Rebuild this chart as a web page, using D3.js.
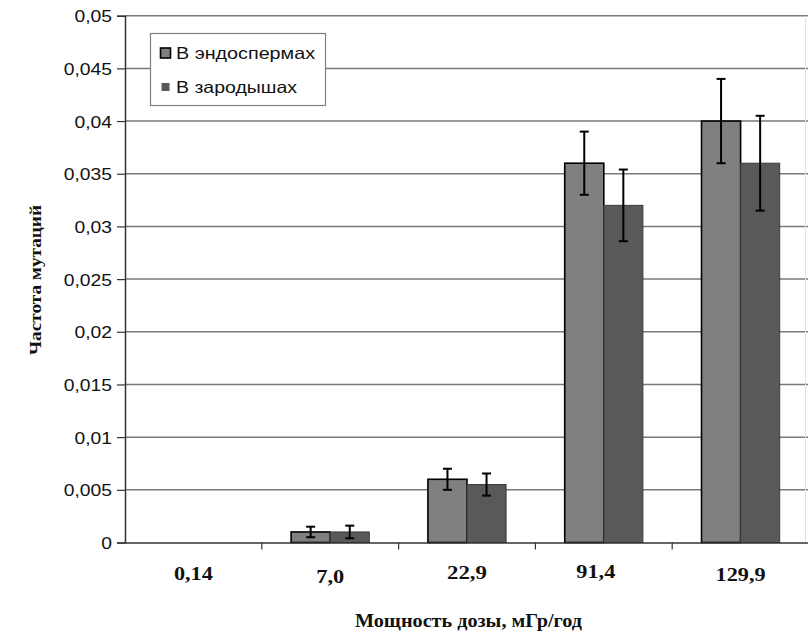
<!DOCTYPE html>
<html>
<head>
<meta charset="utf-8">
<script src="https://cdn.jsdelivr.net/npm/d3@7"></script>
<style>
  html, body { margin: 0; padding: 0; background: #fff; }
  svg { display: block; }
</style>
</head>
<body>
<svg id="chart" width="808" height="633"></svg>
<script>
// Dose-rate categories (mGy/year) and mutation frequencies
const categories = ["0,14", "7,0", "22,9", "91,4", "129,9"];
const seriesNames = ["В эндоспермах", "В зародышах"];
const endosperm    = [0, 0.001, 0.006, 0.036, 0.040];
const endospermErr = [0, 0.0005, 0.001, 0.003, 0.004];
const embryo       = [0, 0.001, 0.0055, 0.032, 0.036];
const embryoErr    = [0, 0.0006, 0.00105, 0.0034, 0.0045];
const yTicks       = [0, 0.005, 0.01, 0.015, 0.02, 0.025, 0.03, 0.035, 0.04, 0.045, 0.05];
const yTickLabels  = ["0", "0,005", "0,01", "0,015", "0,02", "0,025", "0,03", "0,035", "0,04", "0,045", "0,05"];
const xTitle = "Мощность дозы, мГр/год";
const yTitle = "Частота мутаций";

const svg = d3.select("#chart");
const plot = { left: 125, right: 809, top: 15.7, bottom: 542.5 };
const serif = "'Liberation Serif', 'Times New Roman', serif";
const sans = "'Liberation Sans', Arial, sans-serif";

const x = d3.scaleBand().domain(categories).range([plot.left, plot.right]).paddingInner(0).paddingOuter(0);
const xs = d3.scaleBand().domain(seriesNames).range([0, x.bandwidth()]).paddingInner(0).paddingOuter(0.75);
const y = d3.scaleLinear().domain([0, 0.05]).range([plot.bottom, plot.top]);

const series = [
  { name: seriesNames[0], values: endosperm, errors: endospermErr, fill: "#808080", stroke: "#000", sw: 1.6 },
  { name: seriesNames[1], values: embryo,    errors: embryoErr,    fill: "#595959", stroke: "#3a3a3a", sw: 1 }
];

// horizontal gridlines
svg.append("g").selectAll("line").data(yTicks.filter(v => v > 0)).join("line")
  .attr("x1", plot.left).attr("x2", 808)
  .attr("y1", d => y(d)).attr("y2", d => y(d))
  .attr("stroke", "#7a7a7a").attr("stroke-width", 1.5);

// faint right border of the plot area
svg.append("line").attr("x1", 805.5).attr("x2", 805.5).attr("y1", plot.top).attr("y2", plot.bottom)
  .attr("stroke", "#e2e2e2").attr("stroke-width", 1);

// bars
const groups = svg.append("g").selectAll("g").data(series).join("g");
groups.each(function(s) {
  const g = d3.select(this);
  const rows = categories.map((c, i) => ({ c, v: s.values[i], e: s.errors[i] })).filter(d => d.v > 0);
  g.selectAll("rect").data(rows).join("rect")
    .attr("x", d => x(d.c) + xs(s.name))
    .attr("y", d => y(d.v))
    .attr("width", xs.bandwidth())
    .attr("height", d => y(0) - y(d.v))
    .attr("fill", s.fill).attr("stroke", s.stroke).attr("stroke-width", s.sw);
});

// error bars
groups.each(function(s) {
  const g = d3.select(this).append("g").attr("stroke", "#000").attr("stroke-width", 2);
  const rows = categories.map((c, i) => ({ c, v: s.values[i], e: s.errors[i] })).filter(d => d.e > 0);
  const cx = d => x(d.c) + xs(s.name) + xs.bandwidth() / 2;
  g.selectAll("line.v").data(rows).join("line").attr("class", "v")
    .attr("x1", cx).attr("x2", cx)
    .attr("y1", d => y(d.v + d.e)).attr("y2", d => y(d.v - d.e));
  g.selectAll("line.t").data(rows).join("line").attr("class", "t")
    .attr("x1", d => cx(d) - 4.5).attr("x2", d => cx(d) + 4.5)
    .attr("y1", d => y(d.v + d.e)).attr("y2", d => y(d.v + d.e));
  g.selectAll("line.b").data(rows).join("line").attr("class", "b")
    .attr("x1", d => cx(d) - 4.5).attr("x2", d => cx(d) + 4.5)
    .attr("y1", d => y(d.v - d.e)).attr("y2", d => y(d.v - d.e));
});

// y axis
const yAxis = d3.axisLeft(y).tickValues(yTicks).tickSize(8).tickPadding(5)
  .tickFormat((d, i) => yTickLabels[i]);
const ya = svg.append("g").attr("transform", `translate(${plot.left},0)`).call(yAxis);
ya.select(".domain").attr("stroke", "#333").attr("stroke-width", 1.5);
ya.selectAll(".tick line").attr("stroke", "#333").attr("stroke-width", 1.2);
ya.selectAll(".tick text")
  .attr("font-family", sans)
  .attr("font-size", 16.5).attr("fill", "#111")
  .attr("dy", "0.36em")
  .attr("transform", "scale(1.17,1)").attr("x", -13 / 1.17);

// x axis
const xAxis = d3.axisBottom(x).tickSize(0).tickFormat("");
const xa = svg.append("g").attr("transform", `translate(0,${plot.bottom})`).call(xAxis);
xa.select(".domain").attr("stroke", "#333").attr("stroke-width", 1.5);
// tick marks on category boundaries
xa.selectAll("line.sep").data(categories.slice(1)).join("line").attr("class", "sep")
  .attr("x1", d => x(d)).attr("x2", d => x(d)).attr("y1", 0).attr("y2", 7)
  .attr("stroke", "#333").attr("stroke-width", 1.2);

// category labels (bold serif, slightly uneven placement)
const nudgeX = [0, 0, 0, -8, 0];
const nudgeY = [0, 3, -1, -2, 1];
const labelW = [39, 28, 40, 39, 50];
svg.append("g").selectAll("text").data(categories).join("text")
  .attr("x", (d, i) => x(d) + x.bandwidth() / 2 + nudgeX[i] - labelW[i] / 2)
  .attr("y", (d, i) => 580 + nudgeY[i])
  .attr("textLength", (d, i) => labelW[i]).attr("lengthAdjust", "spacingAndGlyphs")
  .attr("font-family", serif)
  .attr("font-weight", "bold").attr("font-size", 19.5).attr("fill", "#111")
  .text(d => d);

// axis titles
svg.append("text")
  .attr("x", 355).attr("y", 627)
  .attr("textLength", 227).attr("lengthAdjust", "spacingAndGlyphs")
  .attr("font-family", serif)
  .attr("font-weight", "bold").attr("font-size", 19).attr("fill", "#111")
  .text(xTitle);

svg.append("text")
  .attr("transform", "translate(41,280) rotate(-90)")
  .attr("x", -75)
  .attr("textLength", 150).attr("lengthAdjust", "spacingAndGlyphs")
  .attr("font-family", serif)
  .attr("font-weight", "bold").attr("font-size", 17).attr("fill", "#111")
  .text(yTitle);

// legend
const lg = svg.append("g");
lg.append("rect").attr("x", 150.5).attr("y", 33.5).attr("width", 175).attr("height", 72)
  .attr("fill", "#fff").attr("stroke", "#808080").attr("stroke-width", 1.2);
const legendRows = [
  { s: series[0], cy: 53, size: 10, tw: 139 },
  { s: series[1], cy: 87, size: 8, tw: 121 }
];
legendRows.forEach(r => {
  lg.append("rect")
    .attr("x", 165.5 - r.size / 2).attr("y", r.cy - r.size / 2)
    .attr("width", r.size).attr("height", r.size)
    .attr("fill", r.s.fill)
    .attr("stroke", r.s === series[0] ? "#000" : "none").attr("stroke-width", 1.6);
  lg.append("text").attr("x", 176).attr("y", r.cy + 6)
    .attr("textLength", r.tw).attr("lengthAdjust", "spacingAndGlyphs")
    .attr("font-family", sans)
    .attr("font-size", 16.5).attr("fill", "#111")
    .text(r.s.name);
});
</script>
</body>
</html>
